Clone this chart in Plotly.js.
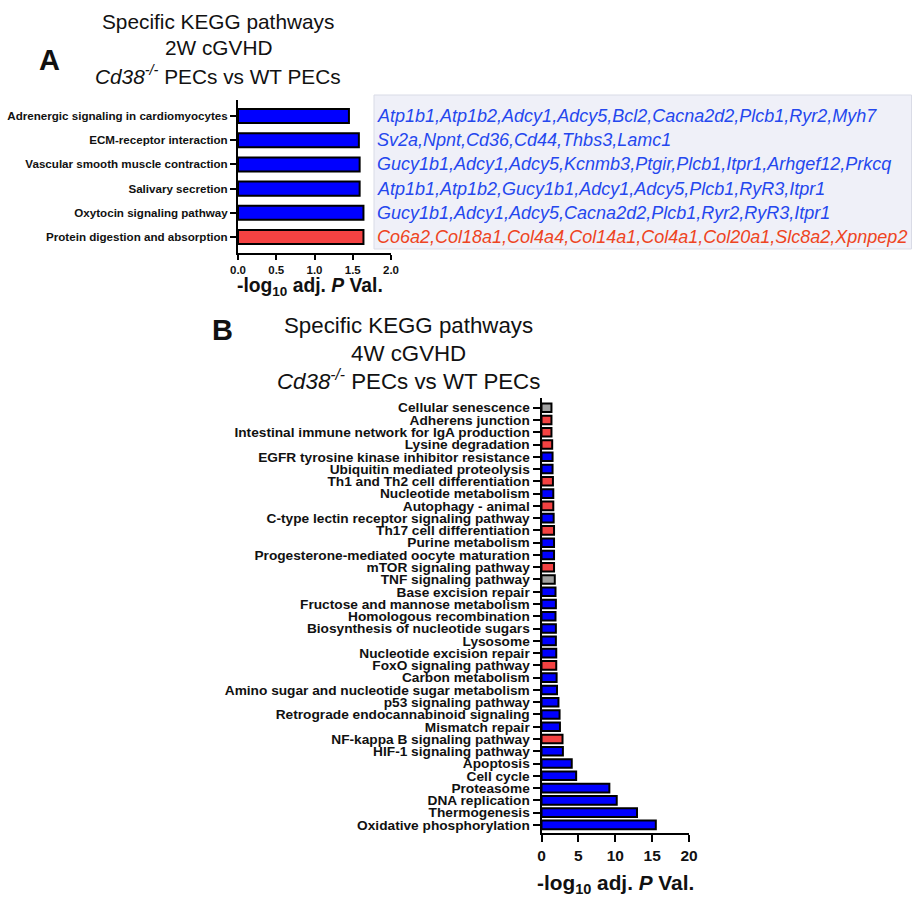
<!DOCTYPE html>
<html>
<head>
<meta charset="utf-8">
<script src="https://cdn.plot.ly/plotly-3.0.1.min.js"></script>
<style>html,body{margin:0;padding:0;background:#fff}</style>
</head>
<body>
<div id="chart" style="width:912px;height:897px"></div>
<script>
// ---------- Panel A data (2W cGVHD) ----------
const pathwaysA = [
  "Adrenergic signaling in cardiomyocytes",
  "ECM-receptor interaction",
  "Vascular smooth muscle contraction",
  "Salivary secretion",
  "Oxytocin signaling pathway",
  "Protein digestion and absorption"
];
const valuesA = [1.45, 1.58, 1.59, 1.59, 1.64, 1.64];
const groupA = ["up", "up", "up", "up", "up", "down"];
const genesA = [
  "Atp1b1,Atp1b2,Adcy1,Adcy5,Bcl2,Cacna2d2,Plcb1,Ryr2,Myh7",
  "Sv2a,Npnt,Cd36,Cd44,Thbs3,Lamc1",
  "Gucy1b1,Adcy1,Adcy5,Kcnmb3,Ptgir,Plcb1,Itpr1,Arhgef12,Prkcq",
  "Atp1b1,Atp1b2,Gucy1b1,Adcy1,Adcy5,Plcb1,RyR3,Itpr1",
  "Gucy1b1,Adcy1,Adcy5,Cacna2d2,Plcb1,Ryr2,RyR3,Itpr1",
  "Co6a2,Col18a1,Col4a4,Col14a1,Col4a1,Col20a1,Slc8a2,Xpnpep2"
];
const ticksA = [0, 0.5, 1, 1.5, 2];
const tickLabelsA = ["0.0", "0.5", "1.0", "1.5", "2.0"];

// ---------- Panel B data (4W cGVHD) ----------
const pathwaysB = [
  "Cellular senescence",
  "Adherens junction",
  "Intestinal immune network for IgA production",
  "Lysine degradation",
  "EGFR tyrosine kinase inhibitor resistance",
  "Ubiquitin mediated proteolysis",
  "Th1 and Th2 cell differentiation",
  "Nucleotide metabolism",
  "Autophagy - animal",
  "C-type lectin receptor signaling pathway",
  "Th17 cell differentiation",
  "Purine metabolism",
  "Progesterone-mediated oocyte maturation",
  "mTOR signaling pathway",
  "TNF signaling pathway",
  "Base excision repair",
  "Fructose and mannose metabolism",
  "Homologous recombination",
  "Biosynthesis of nucleotide sugars",
  "Lysosome",
  "Nucleotide excision repair",
  "FoxO signaling pathway",
  "Carbon metabolism",
  "Amino sugar and nucleotide sugar metabolism",
  "p53 signaling pathway",
  "Retrograde endocannabinoid signaling",
  "Mismatch repair",
  "NF-kappa B signaling pathway",
  "HIF-1 signaling pathway",
  "Apoptosis",
  "Cell cycle",
  "Proteasome",
  "DNA replication",
  "Thermogenesis",
  "Oxidative phosphorylation"
];
const valuesB = [
  1.35, 1.35, 1.35, 1.45, 1.5, 1.5, 1.55, 1.6, 1.6, 1.65,
  1.7, 1.7, 1.7, 1.7, 1.8, 1.9, 1.95, 1.9, 1.95, 1.95,
  2.0, 2.0, 2.05, 2.1, 2.3, 2.45, 2.5, 2.85, 2.9, 4.1,
  4.7, 9.2, 10.2, 12.95, 15.5
];
const groupB = [
  "ns", "down", "down", "down", "up", "up", "down", "up", "down", "up",
  "down", "up", "up", "down", "ns", "up", "up", "up", "up", "up",
  "up", "down", "up", "up", "up", "up", "up", "down", "up", "up",
  "up", "up", "up", "up", "up"
];
const ticksB = [0, 5, 10, 15, 20];

// ---------- styling ----------
const groupColor = {up: "#0000FF", down: "#F44242", ns: "#A0A0A0"};
const geneColor = {up: "#2447EE", down: "#EE4422"};
const W = 912, H = 897;
const px = v => v / W;
const py = v => 1 - v / H;
const FONT = "Liberation Sans, Arial, Helvetica, sans-serif";

const traceA = {
  type: "bar", orientation: "h",
  x: valuesA, y: pathwaysA,
  xaxis: "x", yaxis: "y",
  width: 0.58,
  marker: {color: groupA.map(g => groupColor[g]), line: {color: "#000", width: 2}},
  hoverinfo: "x+y"
};
const traceB = {
  type: "bar", orientation: "h",
  x: valuesB, y: pathwaysB,
  xaxis: "x2", yaxis: "y2",
  width: 0.7,
  marker: {color: groupB.map(g => groupColor[g]), line: {color: "#000", width: 2}},
  hoverinfo: "x+y"
};

const axisCommon = {
  showgrid: false, zeroline: false,
  showline: true, linecolor: "#000", linewidth: 2,
  ticks: "outside", tickcolor: "#000", tickwidth: 2,
  fixedrange: true
};

const annotations = [];
// gene lists, panel A
genesA.forEach((g, i) => {
  annotations.push({
    xref: "paper", yref: "y", x: px(375), y: pathwaysA[i],
    xanchor: "left", yanchor: "middle", showarrow: false,
    text: "<i>" + g + "</i>",
    font: {family: FONT, size: 18, color: geneColor[groupA[i]]}
  });
});
// panel titles
const titleA = ["Specific KEGG pathways", "2W cGVHD", "<i>Cd38<sup>-/-</sup></i> PECs vs WT PECs"];
const titleAy = [22, 47, 75];
titleA.forEach((t, i) => annotations.push({
  xref: "paper", yref: "paper", x: px(218), y: py(titleAy[i]),
  xanchor: "center", yanchor: "middle", showarrow: false, text: t,
  font: {family: FONT, size: 20.8, color: "#111"}
}));
const titleB = ["Specific KEGG pathways", "4W cGVHD", "<i>Cd38<sup>-/-</sup></i> PECs vs WT PECs"];
const titleBy = [325, 353, 380];
titleB.forEach((t, i) => annotations.push({
  xref: "paper", yref: "paper", x: px(408), y: py(titleBy[i]),
  xanchor: "center", yanchor: "middle", showarrow: false, text: t,
  font: {family: FONT, size: 22.3, color: "#111"}
}));
// panel letters
annotations.push({xref: "paper", yref: "paper", x: px(49), y: py(60), xanchor: "center", yanchor: "middle",
  showarrow: false, text: "<b>A</b>", font: {family: FONT, size: 29, color: "#111"}});
annotations.push({xref: "paper", yref: "paper", x: px(222), y: py(330), xanchor: "center", yanchor: "middle",
  showarrow: false, text: "<b>B</b>", font: {family: FONT, size: 29, color: "#111"}});
// axis titles
annotations.push({xref: "paper", yref: "paper", x: px(310), y: py(287), xanchor: "center", yanchor: "middle",
  showarrow: false, text: "<b>-log<sub>10</sub> adj. <i>P</i> Val.</b>", font: {family: FONT, size: 19.3, color: "#111"}});
annotations.push({xref: "paper", yref: "paper", x: px(615), y: py(884), xanchor: "center", yanchor: "middle",
  showarrow: false, text: "<b>-log<sub>10</sub> adj. <i>P</i> Val.</b>", font: {family: FONT, size: 20.8, color: "#111"}});

const layout = {
  width: W, height: H,
  margin: {l: 0, r: 0, t: 0, b: 0},
  paper_bgcolor: "#fff", plot_bgcolor: "rgba(0,0,0,0)",
  showlegend: false,
  bargap: 0.4,
  xaxis: Object.assign({}, axisCommon, {
    domain: [px(238), px(391)], anchor: "y",
    range: [0, 2], tickmode: "array", tickvals: ticksA, ticktext: tickLabelsA, ticklen: 5,
    tickfont: {family: FONT, size: 11.5, color: "#111", weight: "bold"}
  }),
  yaxis: Object.assign({}, axisCommon, {
    domain: [py(253), py(100)], anchor: "x",
    type: "category", categoryorder: "array", categoryarray: pathwaysA,
    tickmode: "array", tickvals: pathwaysA,
    range: [5.66, -0.66], ticklen: 6,
    tickfont: {family: FONT, size: 11.6, color: "#111", weight: "bold"}
  }),
  xaxis2: Object.assign({}, axisCommon, {
    domain: [px(541.5), px(689)], anchor: "y2",
    range: [0, 20], tickmode: "array", tickvals: ticksB, ticklen: 7,
    tickfont: {family: FONT, size: 15.5, color: "#111", weight: "bold"}
  }),
  yaxis2: Object.assign({}, axisCommon, {
    domain: [py(833), py(398)], anchor: "x2",
    type: "category", categoryorder: "array", categoryarray: pathwaysB,
    tickmode: "array", tickvals: pathwaysB,
    range: [34.66, -0.79], ticklen: 7,
    tickfont: {family: FONT, size: 13.7, color: "#111", weight: "bold"}
  }),
  shapes: [{
    type: "rect", xref: "paper", yref: "paper", layer: "below",
    x0: px(374), x1: px(911.5), y0: py(249), y1: py(95),
    fillcolor: "#EFF0F8", line: {color: "#D9DBE6", width: 1}
  }],
  annotations: annotations
};

Plotly.newPlot("chart", [traceA, traceB], layout, {displayModeBar: false, staticPlot: true});
</script>
</body>
</html>
